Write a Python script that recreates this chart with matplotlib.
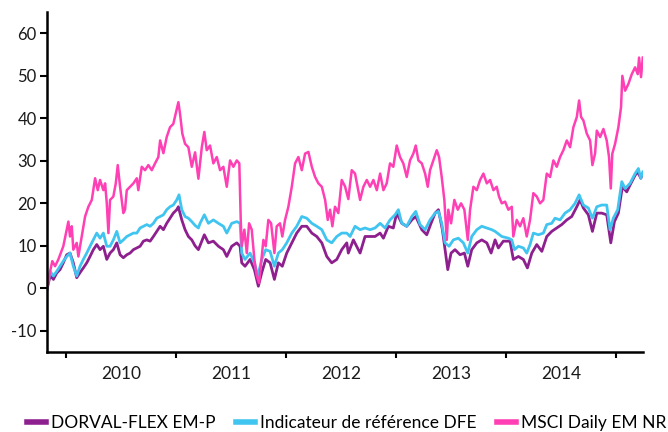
import matplotlib
matplotlib.use("Agg")
import matplotlib.pyplot as plt
from matplotlib.ticker import FixedLocator, NullFormatter, FixedFormatter

plt.rcParams['font.family'] = ['Lato', 'DejaVu Sans']

# series labels and colours
labels = ['DORVAL-FLEX EM-P', 'Indicateur de référence DFE', 'MSCI Daily EM NR']
colors = ['#8e1f8e', '#40c4f0', '#ff3fb4']

# DORVAL-FLEX EM-P (performance in %, x in decimal years)
dorval_x = [2009.825, 2009.855, 2009.885, 2009.915, 2009.945, 2009.975, 2010.006, 2010.036,
            2010.066, 2010.097, 2010.127, 2010.157, 2010.188, 2010.218, 2010.248, 2010.279,
            2010.309, 2010.339, 2010.370, 2010.400, 2010.430, 2010.461, 2010.491, 2010.521,
            2010.552, 2010.582, 2010.612, 2010.643, 2010.673, 2010.703, 2010.734, 2010.764,
            2010.794, 2010.825, 2010.855, 2010.885, 2010.915, 2010.945, 2010.975, 2011.006,
            2011.021, 2011.052, 2011.082, 2011.112, 2011.143, 2011.173, 2011.203, 2011.257,
            2011.294, 2011.339, 2011.385, 2011.430, 2011.461, 2011.506, 2011.552, 2011.582,
            2011.597, 2011.627, 2011.673, 2011.712, 2011.748, 2011.779, 2011.815, 2011.855,
            2011.894, 2011.930, 2011.966, 2012.006, 2012.052, 2012.097, 2012.143, 2012.188,
            2012.234, 2012.279, 2012.325, 2012.370, 2012.415, 2012.461, 2012.506, 2012.552,
            2012.566, 2012.612, 2012.673, 2012.718, 2012.764, 2012.809, 2012.855, 2012.885,
            2012.930, 2012.975, 2013.006, 2013.052, 2013.097, 2013.143, 2013.179, 2013.234,
            2013.279, 2013.318, 2013.355, 2013.385, 2013.421, 2013.445, 2013.470, 2013.500,
            2013.536, 2013.582, 2013.621, 2013.652, 2013.688, 2013.734, 2013.779, 2013.825,
            2013.864, 2013.900, 2013.930, 2013.975, 2014.036, 2014.066, 2014.112, 2014.157,
            2014.194, 2014.234, 2014.279, 2014.325, 2014.370, 2014.415, 2014.461, 2014.506,
            2014.552, 2014.597, 2014.643, 2014.673, 2014.703, 2014.748, 2014.785, 2014.825,
            2014.870, 2014.915, 2014.952, 2014.985, 2015.021, 2015.057, 2015.097, 2015.127,
            2015.173, 2015.197, 2015.225, 2015.243]
dorval_y = [-0.5, 3.0, 2.1, 3.6, 4.4, 6.0, 7.9, 8.3,
            6.0, 2.5, 3.7, 4.8, 6.0, 7.5, 9.1, 10.3,
            9.1, 9.9, 6.8, 8.3, 9.1, 10.7, 7.9, 7.2,
            7.9, 8.3, 9.1, 9.5, 9.9, 11.1, 11.4, 11.1,
            12.2, 13.4, 14.6, 13.8, 15.3, 16.5, 17.7, 18.5,
            19.2, 16.1, 13.8, 12.2, 11.4, 10.0, 9.1, 12.6,
            10.7, 11.1, 9.9, 9.1, 7.5, 9.9, 10.7, 9.9,
            6.0, 5.2, 6.8, 4.4, 0.5, 3.7, 6.8, 6.0,
            2.1, 6.0, 5.2, 8.3, 10.7, 13.0, 14.6, 14.6,
            13.0, 12.2, 10.7, 7.5, 6.0, 6.8, 9.1, 10.7,
            8.3, 11.4, 8.3, 12.2, 12.2, 12.2, 13.0, 11.8,
            14.6, 14.2, 17.7, 15.3, 14.6, 16.1, 16.9, 13.8,
            12.6, 15.3, 17.7, 18.5, 13.8, 9.1, 4.4, 8.3,
            9.1, 7.9, 8.3, 5.2, 9.1, 10.7, 11.4, 10.7,
            8.3, 11.4, 9.5, 11.1, 11.1, 6.8, 7.5, 6.8,
            4.8, 8.3, 10.3, 8.7, 12.2, 13.4, 14.2, 15.0,
            16.1, 16.9, 19.2, 20.8, 18.9, 17.3, 13.4, 17.7,
            17.7, 17.3, 10.7, 15.7, 17.7, 23.9, 22.7, 24.3,
            26.6, 27.4, 25.9, 27.0]

# Indicateur de référence DFE
indic_x = [2009.825, 2009.855, 2009.885, 2009.915, 2009.945, 2009.975, 2010.006, 2010.036,
           2010.066, 2010.097, 2010.127, 2010.157, 2010.188, 2010.218, 2010.248, 2010.279,
           2010.309, 2010.339, 2010.370, 2010.400, 2010.430, 2010.461, 2010.491, 2010.521,
           2010.552, 2010.582, 2010.612, 2010.643, 2010.673, 2010.703, 2010.734, 2010.764,
           2010.794, 2010.825, 2010.855, 2010.885, 2010.915, 2010.945, 2010.975, 2011.006,
           2011.027, 2011.052, 2011.082, 2011.112, 2011.143, 2011.173, 2011.203, 2011.218,
           2011.257, 2011.294, 2011.339, 2011.385, 2011.430, 2011.461, 2011.506, 2011.552,
           2011.582, 2011.597, 2011.627, 2011.673, 2011.712, 2011.743, 2011.779, 2011.815,
           2011.855, 2011.894, 2011.930, 2011.966, 2012.006, 2012.052, 2012.097, 2012.143,
           2012.188, 2012.234, 2012.279, 2012.325, 2012.370, 2012.415, 2012.461, 2012.506,
           2012.552, 2012.582, 2012.627, 2012.673, 2012.718, 2012.764, 2012.809, 2012.855,
           2012.900, 2012.945, 2012.991, 2013.021, 2013.052, 2013.097, 2013.143, 2013.179,
           2013.218, 2013.264, 2013.309, 2013.355, 2013.385, 2013.415, 2013.445, 2013.482,
           2013.521, 2013.566, 2013.612, 2013.652, 2013.688, 2013.734, 2013.779, 2013.825,
           2013.870, 2013.900, 2013.961, 2014.021, 2014.052, 2014.076, 2014.112, 2014.157,
           2014.188, 2014.218, 2014.248, 2014.294, 2014.339, 2014.370, 2014.415, 2014.445,
           2014.491, 2014.536, 2014.582, 2014.627, 2014.664, 2014.703, 2014.748, 2014.785,
           2014.825, 2014.870, 2014.915, 2014.945, 2014.975, 2015.015, 2015.052, 2015.082,
           2015.127, 2015.173, 2015.203, 2015.225, 2015.243]
indic_y = [-0.2, 4.0, 2.9, 4.0, 5.2, 6.4, 7.5, 8.3,
           5.2, 2.9, 5.2, 6.8, 8.3, 9.9, 11.4, 13.0,
           11.8, 13.0, 9.9, 9.9, 11.4, 13.4, 10.7, 11.4,
           12.2, 12.6, 13.0, 13.0, 14.2, 14.6, 15.0, 14.6,
           15.3, 16.5, 16.9, 17.3, 18.5, 19.2, 19.6, 20.8,
           22.0, 18.5, 16.9, 16.5, 15.7, 14.8, 14.2, 15.3,
           17.3, 15.3, 16.1, 15.3, 14.6, 13.0, 15.3, 15.7,
           15.3, 8.3, 6.8, 8.3, 6.0, 2.9, 6.8, 9.1,
           8.7, 5.2, 8.3, 9.1, 10.7, 13.0, 14.6, 16.9,
           16.5, 15.3, 14.6, 13.8, 11.4, 10.7, 12.2, 13.0,
           13.0, 12.2, 14.6, 13.8, 14.2, 13.8, 14.2, 15.3,
           14.2, 16.1, 17.3, 18.5, 15.3, 14.6, 16.9, 18.1,
           15.0, 13.8, 16.1, 17.7, 18.1, 15.3, 10.7, 9.9,
           11.4, 11.8, 10.7, 8.3, 12.2, 13.8, 14.6, 14.2,
           13.8, 13.4, 12.2, 11.8, 11.4, 9.1, 9.9, 9.5,
           8.3, 10.3, 13.0, 12.6, 13.0, 15.0, 15.3, 16.5,
           16.1, 17.7, 18.5, 20.0, 22.0, 19.6, 18.9, 16.5,
           19.2, 19.6, 19.6, 13.8, 16.5, 18.5, 25.1, 23.5,
           24.7, 27.0, 28.2, 25.9, 27.4]

# MSCI Daily EM NR
msci_x = [2009.825, 2009.855, 2009.875, 2009.900, 2009.930, 2009.975, 2010.006, 2010.021,
          2010.036, 2010.052, 2010.066, 2010.097, 2010.112, 2010.143, 2010.173, 2010.203,
          2010.234, 2010.264, 2010.288, 2010.309, 2010.339, 2010.355, 2010.370, 2010.385,
          2010.400, 2010.430, 2010.452, 2010.470, 2010.491, 2010.521, 2010.536, 2010.552,
          2010.582, 2010.612, 2010.643, 2010.657, 2010.688, 2010.718, 2010.748, 2010.779,
          2010.809, 2010.839, 2010.855, 2010.885, 2010.915, 2010.945, 2010.975, 2011.006,
          2011.021, 2011.036, 2011.057, 2011.082, 2011.112, 2011.143, 2011.173, 2011.203,
          2011.234, 2011.257, 2011.279, 2011.309, 2011.339, 2011.370, 2011.400, 2011.430,
          2011.461, 2011.491, 2011.521, 2011.552, 2011.575, 2011.588, 2011.597, 2011.621,
          2011.643, 2011.664, 2011.688, 2011.712, 2011.734, 2011.755, 2011.773, 2011.794,
          2011.815, 2011.839, 2011.864, 2011.894, 2011.915, 2011.945, 2011.966, 2011.991,
          2012.021, 2012.052, 2012.082, 2012.112, 2012.143, 2012.173, 2012.203, 2012.234,
          2012.264, 2012.294, 2012.325, 2012.355, 2012.379, 2012.400, 2012.421, 2012.445,
          2012.475, 2012.506, 2012.536, 2012.566, 2012.597, 2012.627, 2012.673, 2012.703,
          2012.734, 2012.764, 2012.794, 2012.825, 2012.855, 2012.885, 2012.915, 2012.945,
          2012.975, 2013.006, 2013.036, 2013.066, 2013.097, 2013.127, 2013.157, 2013.179,
          2013.203, 2013.234, 2013.264, 2013.288, 2013.309, 2013.339, 2013.370, 2013.391,
          2013.415, 2013.439, 2013.461, 2013.475, 2013.500, 2013.530, 2013.561, 2013.591,
          2013.621, 2013.652, 2013.673, 2013.703, 2013.734, 2013.764, 2013.794, 2013.825,
          2013.855, 2013.885, 2013.915, 2013.936, 2013.961, 2013.991, 2014.021, 2014.052,
          2014.066, 2014.097, 2014.127, 2014.157, 2014.188, 2014.218, 2014.248, 2014.279,
          2014.309, 2014.339, 2014.370, 2014.400, 2014.430, 2014.461, 2014.491, 2014.521,
          2014.552, 2014.582, 2014.612, 2014.643, 2014.664, 2014.682, 2014.703, 2014.734,
          2014.764, 2014.785, 2014.809, 2014.825, 2014.855, 2014.885, 2014.915, 2014.936,
          2014.952, 2014.966, 2014.991, 2015.021, 2015.045, 2015.057, 2015.082, 2015.112,
          2015.143, 2015.173, 2015.197, 2015.209, 2015.227, 2015.243]
msci_y = [-0.2, 4.0, 6.4, 5.2, 6.8, 9.9, 13.8, 15.7,
          12.2, 14.6, 9.1, 10.7, 7.5, 12.2, 16.9, 19.2,
          20.8, 25.9, 23.1, 25.5, 23.1, 24.7, 20.1, 13.0,
          20.8, 21.6, 24.7, 29.0, 23.9, 17.7, 18.5, 23.1,
          23.9, 24.7, 25.9, 23.1, 28.6, 27.8, 29.0, 27.8,
          29.4, 30.9, 34.8, 31.8, 35.6, 37.9, 38.7, 42.2,
          43.8, 41.1, 36.4, 34.0, 33.2, 28.6, 32.0, 25.8,
          33.2, 36.8, 32.5, 33.6, 29.4, 30.9, 27.8, 28.6,
          23.9, 30.1, 28.6, 30.1, 29.4, 16.1, 9.9, 13.8,
          8.3, 15.3, 13.8, 6.8, 2.9, 1.3, 6.0, 11.4,
          9.9, 16.1, 15.3, 8.3, 14.6, 15.3, 12.2, 16.1,
          19.2, 23.9, 29.4, 30.9, 27.8, 31.7, 32.1, 28.6,
          26.2, 24.7, 23.9, 20.8, 16.1, 18.5, 14.6, 19.2,
          17.7, 25.5, 24.0, 21.0, 27.8, 27.0, 20.8, 23.9,
          25.5, 23.9, 25.5, 23.1, 27.0, 23.1, 24.7, 29.4,
          28.6, 33.6, 30.9, 29.4, 26.2, 30.1, 31.7, 33.6,
          30.1, 29.4, 27.0, 23.9, 27.8, 30.1, 32.5, 30.9,
          26.2, 20.8, 11.4, 18.5, 15.3, 20.8, 18.5, 20.0,
          18.5, 11.4, 18.5, 23.9, 23.1, 25.5, 27.0, 24.7,
          25.5, 23.1, 23.9, 21.6, 20.0, 20.4, 18.5, 19.2,
          12.2, 16.1, 14.6, 16.5, 12.2, 16.1, 22.4, 21.6,
          20.0, 20.8, 27.0, 26.2, 30.1, 28.6, 30.9, 32.5,
          34.8, 33.2, 37.9, 40.3, 44.2, 40.3, 39.5, 36.4,
          34.8, 29.0, 31.7, 37.1, 35.6, 37.5, 34.8, 30.9,
          23.5, 31.7, 34.0, 37.9, 42.6, 50.0, 46.5, 48.1,
          50.4, 52.0, 50.4, 54.3, 49.7, 54.3]

year_bounds = [2010, 2011, 2012, 2013, 2014, 2015]
year_labels = ['2010', '2011', '2012', '2013', '2014']
y_ticks = [-10, 0, 10, 20, 30, 40, 50, 60]

fig = plt.figure(figsize=(6.68, 4.32), dpi=100)
ax = fig.add_axes([0.0704, 0.185, 0.8922, 0.787])

ax.plot(dorval_x, dorval_y, color=colors[0], lw=2.0, label=labels[0])
ax.plot(indic_x, indic_y, color=colors[1], lw=2.0, label=labels[1])
ax.plot(msci_x, msci_y, color=colors[2], lw=1.8, label=labels[2])

ax.set_xlim(2009.827, 2015.245)
ax.set_ylim(-15, 65)

# years: ticks on boundaries, labels centred between them
ax.xaxis.set_major_locator(FixedLocator(year_bounds))
ax.xaxis.set_major_formatter(NullFormatter())
ax.xaxis.set_minor_locator(FixedLocator([y + 0.5 for y in year_bounds[:-1]]))
ax.xaxis.set_minor_formatter(FixedFormatter(year_labels))
ax.tick_params(axis='x', which='major', length=4, width=1.5, direction='out')
ax.tick_params(axis='x', which='minor', length=0, pad=10, labelsize=12.5, labelcolor='#1a1a1a')

ax.set_yticks(y_ticks)
ax.set_yticklabels([str(v) for v in y_ticks])
ax.tick_params(axis='y', length=5, width=1.5, direction='out', pad=2.5, labelsize=12, labelcolor='#1a1a1a')

for side in ['top', 'right']:
    ax.spines[side].set_visible(False)
for side in ['left', 'bottom']:
    ax.spines[side].set_linewidth(1.8)

leg = fig.legend(loc='lower left', bbox_to_anchor=(27 / 668, 0.002), ncol=3, frameon=False,
                 fontsize=12.5, handlelength=1.1, handletextpad=0.3, columnspacing=1.15,
                 borderpad=0, borderaxespad=0)
for line in leg.get_lines():
    line.set_linewidth(4)

fig.savefig('out.png', dpi=100, facecolor='white')
